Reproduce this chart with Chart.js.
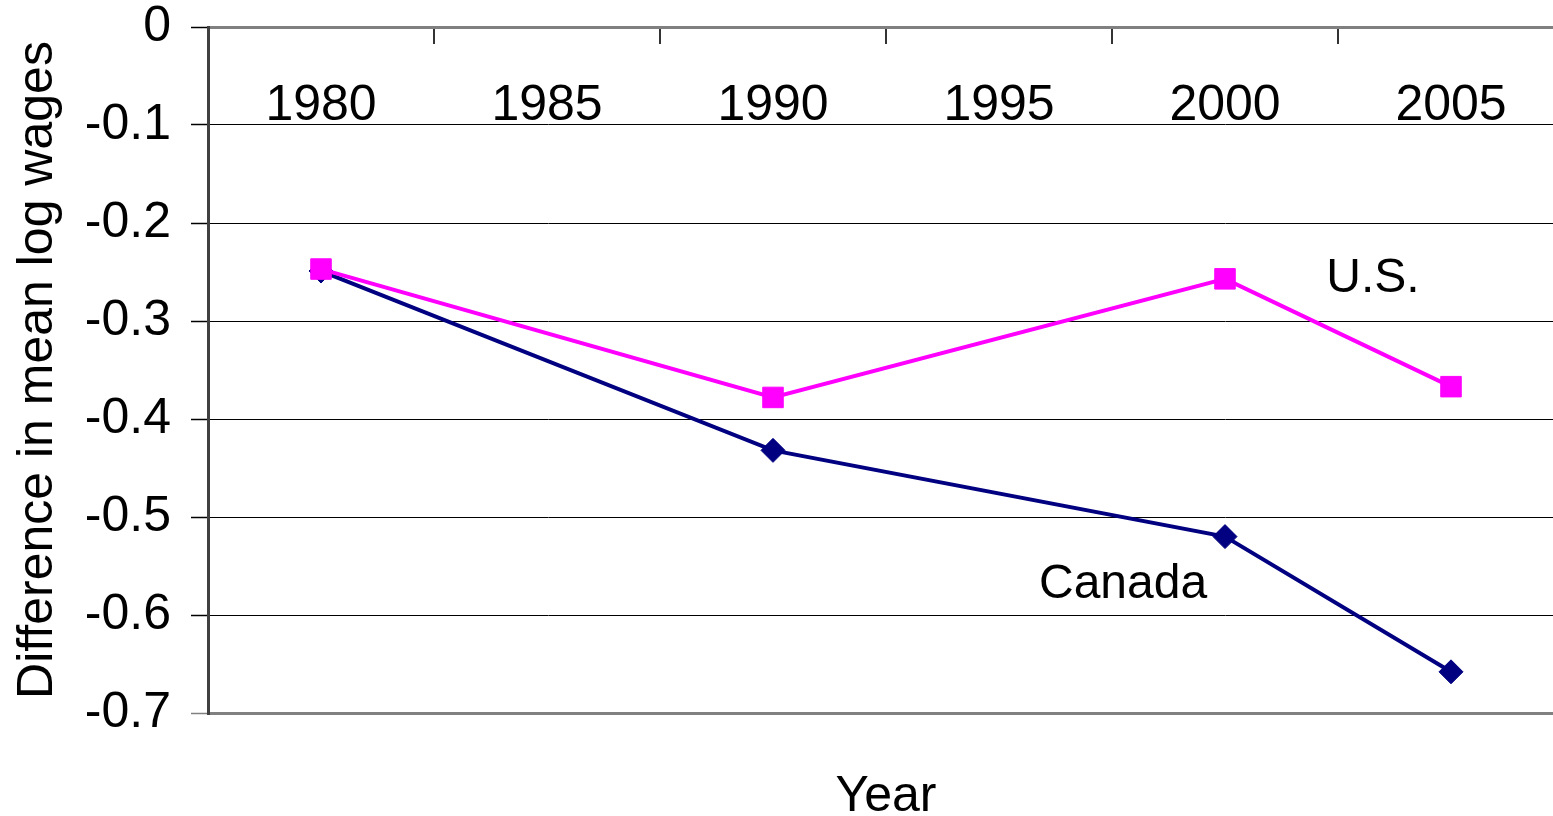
<!DOCTYPE html>
<html>
<head>
<meta charset="utf-8">
<title>Difference in mean log wages</title>
<script src="https://cdn.jsdelivr.net/npm/chart.js@4.4.0/dist/chart.umd.min.js"></script>
<style>
    html, body { margin: 0; padding: 0; background: #fff; overflow: hidden; }
</style>
</head>
<body>
<canvas id="wageChart" width="1564" height="816"></canvas>
<script>
// Chart data
var years = ['1980', '1985', '1990', '1995', '2000', '2005'];
var usValues = [-0.247, null, -0.378, null, -0.257, -0.367];
var canadaValues = [-0.249, null, -0.432, null, -0.520, -0.658];
var seriesNames = ['U.S.', 'Canada'];
// where the series names sit, in data units (category index, value)
var nameSpots = [[4.655, -0.257], [3.549, -0.569]];

var FONT = '"Liberation Sans", Arial, sans-serif';
Chart.defaults.font.family = FONT;
Chart.defaults.color = '#000';

function tickLevel(c) {
    return Math.round(c.tick.value * 10);
}

// Series names written next to the lines
var seriesLabels = {
    id: 'seriesLabels',
    afterDatasetsDraw: function(chart) {
        var ctx = chart.ctx;
        var x = chart.scales.x;
        var y = chart.scales.y;
        ctx.save();
        ctx.font = '48px ' + FONT;
        ctx.fillStyle = '#000';
        ctx.textAlign = 'center';
        ctx.textBaseline = 'middle';
        seriesNames.forEach(function(name, i) {
            ctx.fillText(name, x.getPixelForValue(nameSpots[i][0]), y.getPixelForValue(nameSpots[i][1]));
        });
        ctx.restore();
    }
};

var ctx = document.getElementById('wageChart').getContext('2d');
var wageChart = new Chart(ctx, {
    type: 'line',
    data: {
        labels: years,
        datasets: [{
            label: seriesNames[0],
            data: usValues,
            borderColor: '#FF00FF',
            backgroundColor: '#FF00FF',
            borderWidth: 4,
            pointStyle: 'rect',
            pointRadius: 14.5,
            pointBorderWidth: 1,
            spanGaps: true,
            tension: 0
        }, {
            label: seriesNames[1],
            data: canadaValues,
            borderColor: '#000080',
            backgroundColor: '#000080',
            borderWidth: 4,
            pointStyle: 'rectRot',
            pointRadius: 12,
            pointBorderWidth: 1,
            spanGaps: true,
            tension: 0
        }]
    },
    options: {
        responsive: false,
        animation: false,
        devicePixelRatio: 1,
        layout: { padding: 0, autoPadding: false },
        plugins: {
            legend: { display: false },
            tooltip: { enabled: false }
        },
        scales: {
            x: {
                type: 'category',
                position: 'top',
                offset: true,
                grid: {
                    offset: true,
                    drawOnChartArea: false,
                    drawTicks: true,
                    tickLength: -17,
                    color: '#333',
                    lineWidth: 2
                },
                border: { display: true, color: '#808080', width: 3 },
                ticks: {
                    mirror: true,
                    font: { size: 50 },
                    color: '#000',
                    padding: 49,
                    maxRotation: 0,
                    autoSkip: false
                },
                afterFit: function(s) {
                    s.height = 27;
                    s.paddingLeft = 0;
                    s.paddingRight = 0;
                }
            },
            xTitle: {
                type: 'category',
                position: 'bottom',
                grid: { display: false },
                border: { display: false },
                ticks: { display: false },
                title: {
                    display: true,
                    text: 'Year',
                    font: { size: 50 },
                    color: '#000',
                    padding: { top: 0, bottom: -11 }
                },
                afterFit: function(s) {
                    s.height = 103;
                    s.paddingLeft = 0;
                    s.paddingRight = 0;
                }
            },
            y: {
                position: 'left',
                min: -0.7,
                max: 0,
                ticks: {
                    stepSize: 0.1,
                    font: { size: 50 },
                    color: '#000',
                    padding: 20,
                    callback: function(v) {
                        return Math.round(v * 10) === 0 ? '0' : v.toFixed(1);
                    }
                },
                grid: {
                    tickLength: 17,
                    color: function(c) {
                        var v = tickLevel(c);
                        return (v === -7 || v === 0) ? '#808080' : '#000';
                    },
                    lineWidth: function(c) {
                        var v = tickLevel(c);
                        return (v === -7 || v === 0) ? 3 : 1;
                    },
                    tickColor: function(c) {
                        return tickLevel(c) === -7 ? '#808080' : '#000';
                    },
                    tickWidth: 1.5
                },
                border: { color: '#404040', width: 3 },
                title: {
                    display: true,
                    text: 'Difference in mean log wages',
                    font: { size: 50 },
                    color: '#000',
                    padding: { top: 8, bottom: 0 }
                },
                afterFit: function(s) {
                    s.width = 208;
                    s.paddingTop = 0;
                    s.paddingBottom = 0;
                }
            }
        }
    },
    plugins: [seriesLabels]
});
</script>
</body>
</html>
